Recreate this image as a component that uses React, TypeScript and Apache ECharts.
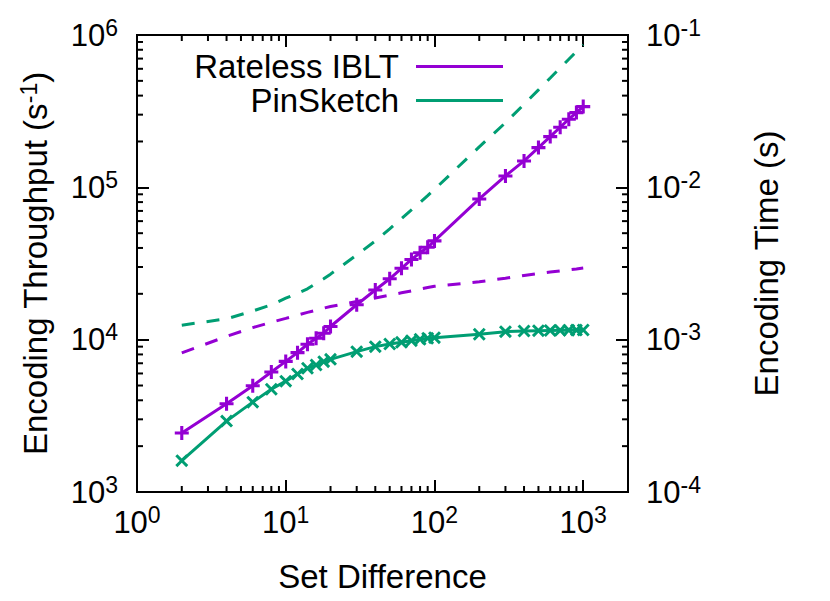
import React, { useEffect, useRef } from "react";
import * as echarts from "echarts";

// ---- Data ----
const setDifference = [2, 4, 6, 8, 10, 12, 14, 16, 18, 20, 30, 40, 50, 60, 70, 80, 90, 100, 200, 300, 400, 500, 600, 700, 800, 900, 1000];

// Encoding throughput (s^-1), left axis
const ratelessThroughput = [2440, 3800, 4980, 6140, 7200, 8220, 9330, 10220, 11020, 12200, 16950, 21200, 25100, 29400, 33600, 37200, 40400, 44500, 83900, 118800, 149000, 182300, 215300, 248000, 280000, 309500, 338800];
const pinsketchThroughput = [1606, 2920, 3890, 4725, 5340, 5955, 6490, 6820, 7170, 7430, 8340, 9000, 9370, 9610, 9850, 10070, 10210, 10310, 10850, 11290, 11400, 11460, 11500, 11520, 11540, 11560, 11580];

// Encoding time (s), right axis (dashed)
const ratelessTime = [8.2e-4, 1.05e-3, 1.2e-3, 1.3e-3, 1.38e-3, 1.45e-3, 1.51e-3, 1.56e-3, 1.61e-3, 1.65e-3, 1.78e-3, 1.88e-3, 1.96e-3, 2.03e-3, 2.09e-3, 2.15e-3, 2.2e-3, 2.24e-3, 2.4e-3, 2.53e-3, 2.64e-3, 2.72e-3, 2.78e-3, 2.83e-3, 2.87e-3, 2.91e-3, 2.95e-3];
const pinsketchTime = [1.245e-3, 1.37e-3, 1.542e-3, 1.693e-3, 1.873e-3, 2.015e-3, 2.157e-3, 2.346e-3, 2.51e-3, 2.692e-3, 3.597e-3, 4.444e-3, 5.336e-3, 6.243e-3, 7.107e-3, 7.944e-3, 8.815e-3, 9.699e-3, 1.843e-2, 2.657e-2, 3.509e-2, 4.363e-2, 5.217e-2, 6.076e-2, 6.932e-2, 7.785e-2, 8.636e-2];

// Axis ranges and tick labels
const xRange = [1, 2000];
const yLeftRange = [1e3, 1e6];
const yRightRange = [1e-4, 1e-1];
const xTickExponents = [0, 1, 2, 3];
const yLeftTickExponents = [3, 4, 5, 6];
const yRightTickExponents = [-4, -3, -2, -1];
const xMinorTicks = [2, 3, 4, 5, 6, 7, 8, 9, 20, 30, 40, 50, 60, 70, 80, 90, 200, 300, 400, 500, 600, 700, 800, 900];
const yLeftMinorTicks = [2e3, 3e3, 4e3, 5e3, 6e3, 7e3, 8e3, 9e3, 2e4, 3e4, 4e4, 5e4, 6e4, 7e4, 8e4, 9e4, 2e5, 3e5, 4e5, 5e5, 6e5, 7e5, 8e5, 9e5];
const yRightMinorTicks = [2e-4, 3e-4, 4e-4, 5e-4, 6e-4, 7e-4, 8e-4, 9e-4, 2e-3, 3e-3, 4e-3, 5e-3, 6e-3, 7e-3, 8e-3, 9e-3, 2e-2, 3e-2, 4e-2, 5e-2, 6e-2, 7e-2, 8e-2, 9e-2];

const PURPLE = "#9400D3";
const GREEN = "#009E73";
const FONT = "'Liberation Sans', Arial, Helvetica, sans-serif";

const PLUS = "path://M3.9,0H6.1V3.9H10V6.1H6.1V10H3.9V6.1H0V3.9H3.9Z";
const CROSS = "path://M0,1.6L1.6,0L5,3.4L8.4,0L10,1.6L6.6,5L10,8.4L8.4,10L5,6.6L1.6,10L0,8.4L3.4,5Z";

const powLabel = (allowed: number[]) => (v: number) => {
  const e = Math.log10(v);
  const r = Math.round(e);
  if (Math.abs(e - r) > 1e-6 || allowed.indexOf(r) < 0) return "";
  return "{b|10}{s|" + r + "}";
};

const labelRich = {
  b: { fontSize: 31, fontFamily: FONT, color: "#000", lineHeight: 38 },
  s: { fontSize: 23, fontFamily: FONT, color: "#000", lineHeight: 22, verticalAlign: "top" },
};

const tickLine = (dx: number, dy: number) => (params: any, api: any) => {
  const p = api.coord([api.value(0), api.value(1)]);
  return {
    type: "line",
    shape: { x1: p[0], y1: p[1], x2: p[0] + dx, y2: p[1] + dy },
    style: { stroke: "#000", lineWidth: 2 },
  };
};

export default function App() {
  const ref = useRef<HTMLDivElement>(null);
  useEffect(() => {
    if (!ref.current) return;
    const chart = echarts.init(ref.current, undefined, { renderer: "svg" });
    const pairs = (ys: number[]) => setDifference.map((x, i) => [x, ys[i]]);
    const MINOR = 6;
    const legendText = { fontSize: 33, fontFamily: FONT, color: "#000", lineHeight: 31, padding: [0, 12, 0, 0] };
    const option: any = {
      animation: false,
      backgroundColor: "#fff",
      textStyle: { fontFamily: FONT },
      grid: { left: 137, right: 202, top: 35, bottom: 109, show: true, borderColor: "#000", borderWidth: 2, containLabel: false },
      legend: [
        {
          data: [{ name: "Rateless IBLT", icon: "rect" }],
          right: 327, top: 50, padding: 0, align: "right", orient: "vertical",
          itemWidth: 87, itemHeight: 3, selectedMode: false, textStyle: legendText,
        },
        {
          data: [{ name: "PinSketch", icon: "rect" }],
          right: 327, top: 84, padding: 0, align: "right", orient: "vertical",
          itemWidth: 87, itemHeight: 3, selectedMode: false, textStyle: legendText,
        },
      ],
      xAxis: [
        {
          type: "log", logBase: 10, min: xRange[0], max: xRange[1], position: "bottom",
          name: "Set Difference", nameLocation: "middle", nameGap: 68,
          nameTextStyle: { fontSize: 33, fontFamily: FONT, color: "#000" },
          axisLine: { show: true, lineStyle: { color: "#000", width: 2 } },
          axisTick: { show: true, inside: true, length: 12, lineStyle: { color: "#000", width: 2 } },
          axisLabel: { show: true, margin: 11, formatter: powLabel(xTickExponents), rich: labelRich },
          splitLine: { show: false },
        },
        {
          type: "log", logBase: 10, min: xRange[0], max: xRange[1], position: "top",
          axisLine: { show: true, lineStyle: { color: "#000", width: 2 } },
          axisTick: { show: true, inside: true, length: 12, lineStyle: { color: "#000", width: 2 } },
          axisLabel: { show: false },
          splitLine: { show: false },
        },
      ],
      yAxis: [
        {
          type: "log", logBase: 10, min: yLeftRange[0], max: yLeftRange[1], position: "left",
          name: "{n|Encoding Throughput (s}{s|-1}{n|)}", nameLocation: "middle", nameGap: 84,
          nameTextStyle: {
            rich: {
              n: { fontSize: 33, fontFamily: FONT, color: "#000", lineHeight: 36 },
              s: { fontSize: 23, fontFamily: FONT, color: "#000", lineHeight: 24, verticalAlign: "top" },
            },
          },
          axisLine: { show: true, lineStyle: { color: "#000", width: 2 } },
          axisTick: { show: true, inside: true, length: 12, lineStyle: { color: "#000", width: 2 } },
          axisLabel: { show: true, margin: 19, formatter: powLabel(yLeftTickExponents), rich: labelRich },
          splitLine: { show: false },
        },
        {
          type: "log", logBase: 10, min: yRightRange[0], max: yRightRange[1], position: "right",
          name: "Encoding Time (s)", nameLocation: "middle", nameGap: 122,
          nameTextStyle: { fontSize: 33, fontFamily: FONT, color: "#000" },
          axisLine: { show: true, lineStyle: { color: "#000", width: 2 } },
          axisTick: { show: true, inside: true, length: 12, lineStyle: { color: "#000", width: 2 } },
          axisLabel: { show: true, margin: 18, formatter: powLabel(yRightTickExponents), rich: labelRich },
          splitLine: { show: false },
        },
      ],
      series: [
        {
          name: "Rateless IBLT encoding time", type: "line", xAxisIndex: 0, yAxisIndex: 1,
          data: pairs(ratelessTime), showSymbol: false, symbol: "none",
          lineStyle: { color: PURPLE, width: 3, type: [13, 12] }, itemStyle: { color: PURPLE }, z: 2,
        },
        {
          name: "PinSketch encoding time", type: "line", xAxisIndex: 0, yAxisIndex: 1,
          data: pairs(pinsketchTime), showSymbol: false, symbol: "none",
          lineStyle: { color: GREEN, width: 3, type: [13, 12] }, itemStyle: { color: GREEN }, z: 2,
        },
        {
          name: "Rateless IBLT", type: "line", xAxisIndex: 0, yAxisIndex: 0,
          data: pairs(ratelessThroughput), symbol: PLUS, symbolSize: 14,
          lineStyle: { color: PURPLE, width: 3 }, itemStyle: { color: PURPLE }, z: 3,
        },
        {
          name: "PinSketch", type: "line", xAxisIndex: 0, yAxisIndex: 0,
          data: pairs(pinsketchThroughput), symbol: CROSS, symbolSize: 13,
          lineStyle: { color: GREEN, width: 3 }, itemStyle: { color: GREEN }, z: 3,
        },
        {
          name: "xMinorBottom", type: "custom", xAxisIndex: 0, yAxisIndex: 0, silent: true,
          data: xMinorTicks.map((v) => [v, yLeftRange[0]]), renderItem: tickLine(0, -MINOR), z: 5,
        },
        {
          name: "xMinorTop", type: "custom", xAxisIndex: 0, yAxisIndex: 0, silent: true,
          data: xMinorTicks.map((v) => [v, yLeftRange[1]]), renderItem: tickLine(0, MINOR), z: 5,
        },
        {
          name: "yMinorLeft", type: "custom", xAxisIndex: 0, yAxisIndex: 0, silent: true,
          data: yLeftMinorTicks.map((v) => [xRange[0], v]), renderItem: tickLine(MINOR, 0), z: 5,
        },
        {
          name: "yMinorRight", type: "custom", xAxisIndex: 0, yAxisIndex: 1, silent: true,
          data: yRightMinorTicks.map((v) => [xRange[1], v]), renderItem: tickLine(-MINOR, 0), z: 5,
        },
      ],
    };
    chart.setOption(option);
    return () => chart.dispose();
  }, []);
  return <div ref={ref} style={{ position: "fixed", left: 0, top: 0, width: 830, height: 601 }} />;
}
